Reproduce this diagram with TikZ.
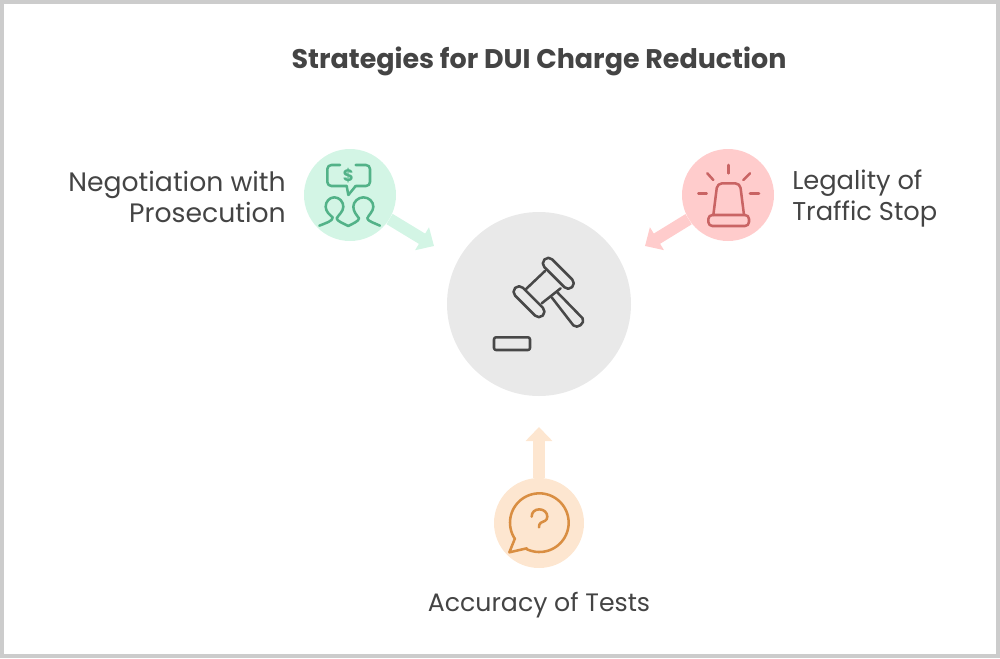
\documentclass[tikz,border=0pt]{standalone}
\usepackage{fontspec}
\setmainfont{Poppins}
\usetikzlibrary{arrows.meta}
\definecolor{txt}{HTML}{444444}
\definecolor{frame}{HTML}{CCCCCC}
\definecolor{grayc}{HTML}{E9E9E9}
\definecolor{grayi}{HTML}{484848}
\definecolor{greenc}{HTML}{D3F5E5}
\definecolor{greeni}{HTML}{52B288}
\definecolor{redc}{HTML}{FFCCCC}
\definecolor{redi}{HTML}{C96464}
\definecolor{orangec}{HTML}{FDE6D0}
\definecolor{orangei}{HTML}{D98E42}
\tikzset{
  px/.style={x=0.75pt,y=-0.75pt},
  disc/.style={circle,inner sep=0pt,minimum size=#1*0.75pt},
  label/.style={text=txt,font=\fontsize{18.9pt}{23.25pt}\selectfont,inner sep=0pt},
  conn/.style={line width=9pt,-{Triangle[length=10.5pt,width=19.5pt]}},
  icon/.style={line width=1.9pt,line cap=round,line join=round},
  zm/.style={shift={(#1)},x=0.25pt,y=-0.25pt}
}
\begin{document}
\begin{tikzpicture}[px]
\useasboundingbox (0,0) rectangle (1000,658);
\draw[frame,line width=3pt] (2,2) rectangle (998,656);
\node[text=txt,inner sep=0pt,font=\fontsize{20.2pt}{24pt}\selectfont\bfseries] (title) at (539,61) {Strategies for DUI Charge Reduction};
% discs
\node[disc=184,fill=grayc] (center) at (539,304) {};
\node[disc=92,fill=greenc] (green) at (350,195) {};
\node[disc=92,fill=redc] (red) at (728,195) {};
\node[disc=90,fill=orangec] (orange) at (539,523) {};
% connectors
\coordinate (tipg) at (434,246);
\coordinate (tipr) at (645,246);
\coordinate (tipo) at (539,427);
\draw[conn,greenc] (green) -- (tipg);
\draw[conn,redc] (red) -- (tipr);
\draw[conn,orangec] (orange) -- (tipo);
% labels
\node[label,font=\fontsize{20pt}{23.25pt}\selectfont,align=right,anchor=east] (lneg) at (286,197) {Negotiation with\\Prosecution};
\node[label,font=\fontsize{19.3pt}{23.25pt}\selectfont,align=left,anchor=west] (lleg) at (792,199) {Legality of\\Traffic Stop};
\node[label] (lacc) at (539,605) {Accuracy of Tests};
% gavel
\begin{scope}[icon,grayi]
  \draw[rounded corners=4pt,rotate around={-45:(558.3,273.3)}] (538.8,267.8) rectangle (577.8,278.8);
  \draw[rounded corners=4pt,rotate around={-45:(529,301.7)}] (509.5,296.2) rectangle (548.5,307.2);
  \begin{scope}[zm={470,240}]
    \draw (225,93) -- (165,150);
    \draw (272,145) -- (215,190);
    \draw (245,172) -- (310,256) .. controls (322,268) and (346,250) .. (338,235) -- (262,157);
    \draw[rounded corners=1.5pt] (72,292) rectangle (180,330);
  \end{scope}
\end{scope}
% money icon
\begin{scope}[zm={290,140},icon,greeni]
  \draw[rounded corners=3pt] (150,75) -- (112,75) -- (112,138) -- (170,138);
  \draw (170,138) -- (175,165) -- (197,138);
  \draw[rounded corners=3pt] (197,138) -- (240,138) -- (240,75) -- (197,75);
  \node[inner sep=0pt,font=\fontsize{12.5pt}{13pt}\selectfont\bfseries] (dollar) at (175,106) {\$};
  \draw (88,257) .. controls (105,250) and (130,243) .. (128,232) .. controls (120,225) and (107,215) .. (107,200) .. controls (107,185) and (118,172) .. (133,172) .. controls (148,172) and (160,185) .. (160,200) .. controls (160,215) and (145,225) .. (140,235) .. controls (140,243) and (160,250) .. (175,258) .. controls (190,250) and (207,243) .. (207,235) .. controls (200,225) and (190,215) .. (190,200) .. controls (190,185) and (205,172) .. (220,172) .. controls (237,172) and (250,185) .. (250,200) .. controls (250,215) and (235,225) .. (232,235) .. controls (232,243) and (255,250) .. (270,257);
\end{scope}
% siren icon
\begin{scope}[zm={630,140},icon,redi]
  \draw (295,75) -- (295,100);
  \draw (232,100) -- (250,120);
  \draw (360,100) -- (340,120);
  \draw (205,160) -- (230,160);
  \draw (360,160) -- (387,160);
  \draw[rounded corners=3.5pt] (250,225) -- (262,130) -- (330,130) -- (342,225);
  \draw[rounded corners=3pt] (235,225) rectangle (357,258);
\end{scope}
% question icon
\begin{scope}[zm={480,420},icon,orangei]
  \draw (105,355) -- (88,397) -- (140,385) -- plot[domain=116:-213,samples=70] ({178+88*cos(\x)},{308+88*sin(\x)});
  \draw (155,290) .. controls (155,276) and (165,268) .. (178,268) .. controls (192,268) and (202,278) .. (202,290) .. controls (202,302) and (190,305) .. (183,308) .. controls (178,311) and (177,315) .. (177,322);
\end{scope}
\end{tikzpicture}
\end{document}
